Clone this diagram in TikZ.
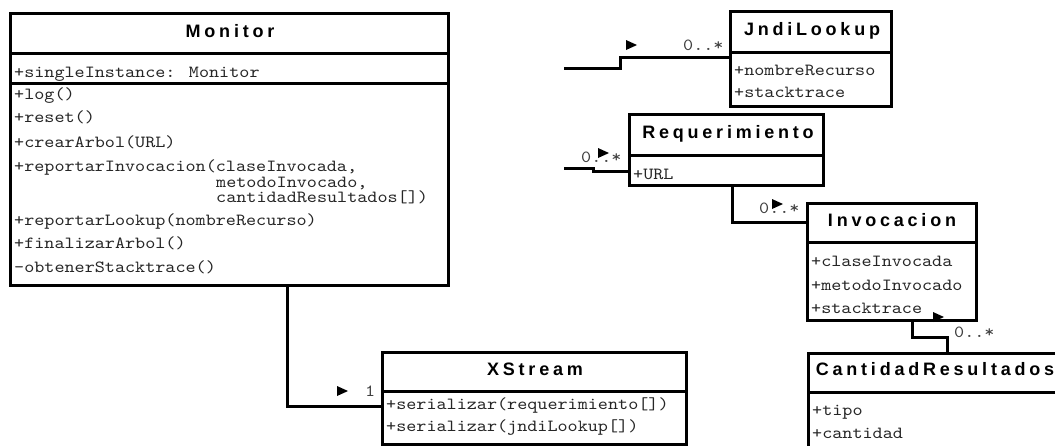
\documentclass[tikz,border=0pt]{standalone}
\usepackage{fontspec}
\newfontfamily\classtitlefont{Liberation Sans}[LetterSpace=21]
\newfontfamily\memberfont{lmmono10-regular}[Extension=.otf, FakeStretch=1.13]
\tikzset{
  classbox/.style={draw, line width=3pt, rectangle, anchor=north west, inner sep=0pt, fill=white},
  sepline/.style={line width=3pt},
  conn/.style={line width=3pt, line join=miter},
  titletext/.style={anchor=base, inner sep=0pt, font=\classtitlefont\bfseries\fontsize{18}{18}\selectfont},
  member/.style={anchor=base west, inner sep=0pt, text=black!85, font=\memberfont\fontsize{17}{17}\selectfont},
  mult/.style={anchor=base west, inner sep=0pt, text=black!75, font=\memberfont\fontsize{17}{17}\selectfont},
  dirmark/.pic={\fill (0,0) -- (11,5) -- (0,10) -- cycle;}
}
\begin{document}
\begin{tikzpicture}[x=1pt, y=-1pt]
\useasboundingbox (0,0) rectangle (1055,445);
\clip (0,0) rectangle (1055,445);

% ---- Monitor ----
\node[classbox, minimum width=438pt, minimum height=272pt] (mon) at (9,12) {};
\draw[sepline] ([yshift=-41pt]mon.north west) -- ([yshift=-41pt]mon.north east);
\draw[sepline] ([yshift=-71pt]mon.north west) -- ([yshift=-71pt]mon.north east);
\node[titletext] (mon-t) at (230,37) {Monitor};
\node[member] (mon-a1) at (14,77)  {+singleInstance: Monitor};
\node[member] (mon-m1) at (14,99)  {+log()};
\node[member] (mon-m2) at (14,122) {+reset()};
\node[member] (mon-m3) at (14,147) {+crearArbol(URL)};
\node[member] (mon-m4) at (14,171) {+reportarInvocacion(claseInvocada,};
\node[member] (mon-m4b) at (216,187) {metodoInvocado,};
\node[member] (mon-m4c) at (216,202) {cantidadResultados[])};
\node[member] (mon-m5) at (14,225) {+reportarLookup(nombreRecurso)};
\node[member] (mon-m6) at (14,248) {+finalizarArbol()};
\node[member] (mon-m7) at (14,272) {-obtenerStacktrace()};

% ---- JndiLookup ----
\node[classbox, minimum width=161pt, minimum height=95pt] (jndi) at (729,10) {};
\draw[sepline] ([yshift=-42pt]jndi.north west) -- ([yshift=-42pt]jndi.north east);
\node[titletext] (jndi-t) at (812,35) {JndiLookup};
\node[member] (jndi-a1) at (734,75) {+nombreRecurso};
\node[member] (jndi-a2) at (734,97) {+stacktrace};

% ---- Requerimiento ----
\node[classbox, minimum width=194pt, minimum height=71pt] (req) at (628,113) {};
\draw[sepline] ([yshift=-42pt]req.north west) -- ([yshift=-42pt]req.north east);
\node[titletext] (req-t) at (728,138) {Requerimiento};
\node[member] (req-a1) at (633,179) {+URL};

% ---- Invocacion ----
\node[classbox, minimum width=169pt, minimum height=117pt] (inv) at (806,202) {};
\draw[sepline] ([yshift=-40pt]inv.north west) -- ([yshift=-40pt]inv.north east);
\node[titletext] (inv-t) at (892,226) {Invocacion};
\node[member] (inv-a1) at (811,266) {+claseInvocada};
\node[member] (inv-a2) at (811,290) {+metodoInvocado};
\node[member] (inv-a3) at (811,313) {+stacktrace};

% ---- CantidadResultados ----
\node[classbox, minimum width=260pt, minimum height=110pt] (cant) at (807,352) {};
\draw[sepline] ([yshift=-40pt]cant.north west) -- ([yshift=-40pt]cant.north east);
\node[titletext] (cant-t) at (935,375) {CantidadResultados};
\node[member] (cant-a1) at (812,415) {+tipo};
\node[member] (cant-a2) at (812,438) {+cantidad};

% ---- XStream ----
\node[classbox, minimum width=304pt, minimum height=92pt] (xs) at (381,351) {};
\draw[sepline] ([yshift=-40pt]xs.north west) -- ([yshift=-40pt]xs.north east);
\node[titletext] (xs-t) at (535,375) {XStream};
\node[member] (xs-m1) at (386,409) {+serializar(requerimiento[])};
\node[member] (xs-m2) at (386,431) {+serializar(jndiLookup[])};

% ---- associations ----
\coordinate (jfree) at (564,68);
\coordinate (rfree) at (564,168);

\draw[conn] (jfree) -- ++(56,0) |- ([yshift=-47pt]jndi.north west);
\pic at (626,40) {dirmark};
\node[mult] (jndi-mult) at (683,50) {0..*};

\draw[conn] (rfree) -- ++(29,0) |- ([yshift=-58pt]req.north west);
\node[mult] (req-mult) at (581,162) {0..*};
\pic at (598,148) {dirmark};

\draw[conn] ([xshift=104pt]req.south west) |- ([yshift=-20pt]inv.north west);
\node[mult] (inv-mult) at (759,213) {0..*};
\pic at (772,199) {dirmark};

\draw[conn] ([xshift=106pt]inv.south west) -- ++(0,15) -| ([xshift=140pt]cant.north west);
\pic at (933,312) {dirmark};
\node[mult] (cant-mult) at (954,337) {0..*};

\draw[conn] ([xshift=278pt]mon.south west) |- ([yshift=-55pt]xs.north west);
\pic at (337,386) {dirmark};
\node[mult] (xs-mult) at (365,396) {1};
\end{tikzpicture}
\end{document}
